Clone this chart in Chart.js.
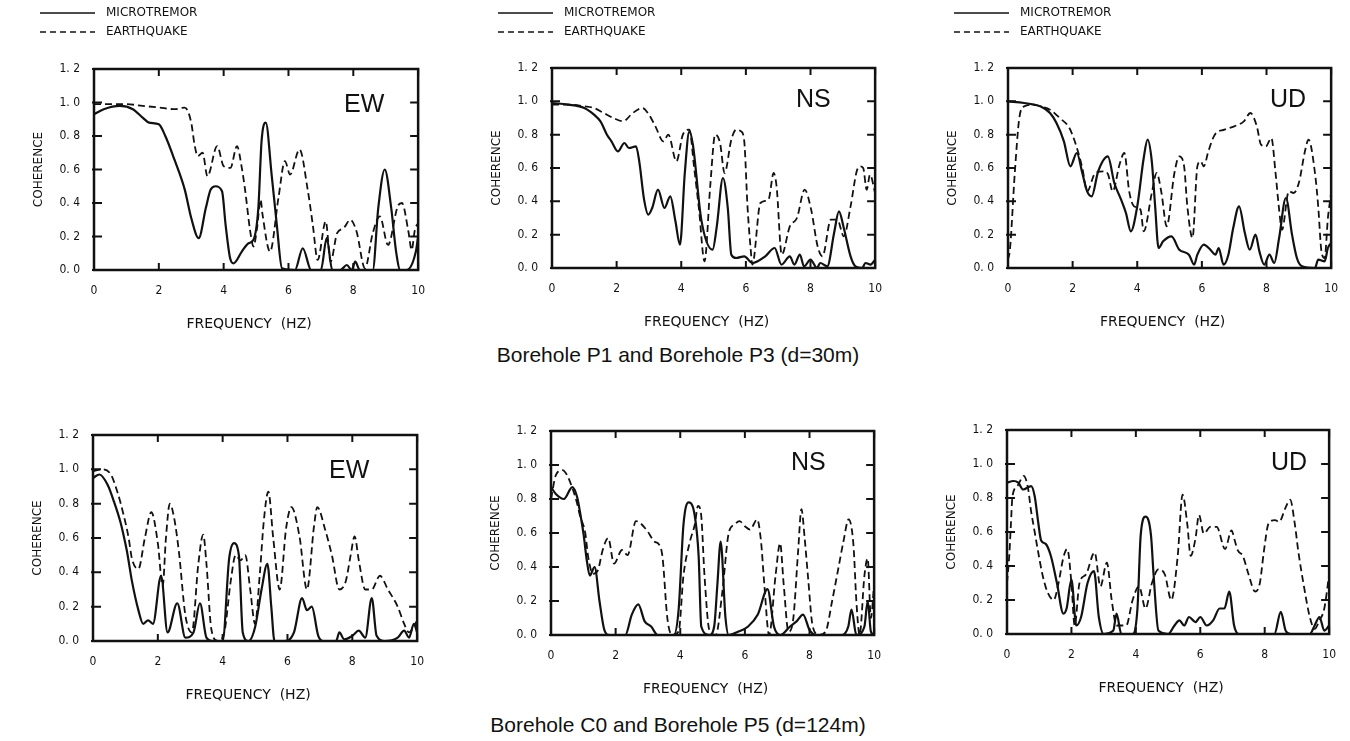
<!DOCTYPE html>
<html>
<head>
<meta charset="utf-8">
<script src="https://cdn.jsdelivr.net/npm/chart.js@4.4.1/dist/chart.umd.min.js"></script>
<style>
  body { margin: 0; background: #fff; }
  #page { position: relative; width: 1350px; height: 741px; overflow: hidden; background: #fff; }
  canvas { position: absolute; }
  .caption { position: absolute; left: 328px; width: 700px; text-align: center;
             font-family: "Liberation Sans", Arial, sans-serif; font-size: 21px; color: #111; }
</style>
</head>
<body>
<div id="page">
  <canvas id="ew30"></canvas>
  <canvas id="ns30"></canvas>
  <canvas id="ud30"></canvas>
  <canvas id="ew124"></canvas>
  <canvas id="ns124"></canvas>
  <canvas id="ud124"></canvas>
  <div class="caption" style="top:343px">Borehole P1 and Borehole P3 (d=30m)</div>
  <div class="caption" style="top:713px">Borehole C0 and Borehole P5 (d=124m)</div>
</div>
<script>
// frequency (Hz), coherence pairs
const xTicks = [0, 2, 4, 6, 8, 10];
const yTicks = [0, 0.2, 0.4, 0.6, 0.8, 1.0, 1.2];

const ew30Micro = [[0,0.93],[0.3,0.96],[0.8,0.98],[1.2,0.96],[1.5,0.91],[1.7,0.88],[2.0,0.87],[2.2,0.8],[2.48,0.66],[2.8,0.48],[3.0,0.31],[3.23,0.19],[3.45,0.37],[3.6,0.48],[3.75,0.5],[3.95,0.47],[4.06,0.27],[4.2,0.07],[4.31,0.04],[4.56,0.11],[4.77,0.16],[4.92,0.18],[5.07,0.37],[5.17,0.77],[5.3,0.88],[5.48,0.57],[5.64,0.27],[5.8,0.01],[6.2,0],[6.44,0.13],[6.7,0],[7.0,0],[7.18,0.19],[7.35,0],[7.6,0],[7.8,0.03],[7.95,0],[8.06,0.05],[8.2,0],[8.6,0],[8.77,0.37],[8.97,0.6],[9.17,0.37],[9.32,0.11],[9.45,0],[9.65,0],[9.93,0.11],[10,0.2]];
const ew30Quake = [[0,0.99],[0.5,0.99],[1.0,0.99],[1.5,0.98],[2.0,0.97],[2.5,0.96],[2.8,0.97],[3.0,0.88],[3.1,0.75],[3.2,0.68],[3.35,0.7],[3.5,0.56],[3.8,0.74],[4.0,0.62],[4.21,0.61],[4.41,0.74],[4.56,0.61],[4.66,0.48],[4.82,0.23],[4.92,0.14],[5.03,0.25],[5.14,0.42],[5.2,0.33],[5.43,0.11],[5.69,0.43],[5.89,0.65],[6.05,0.57],[6.34,0.72],[6.6,0.47],[6.75,0.27],[6.9,0.06],[7.15,0.29],[7.3,0.05],[7.5,0.22],[7.7,0.25],[7.91,0.3],[8.1,0.23],[8.36,0.01],[8.6,0.22],[8.82,0.32],[9.07,0.15],[9.37,0.38],[9.5,0.4],[9.7,0.23],[9.8,0.12],[9.9,0.24],[10,0.28]];

const ns30Micro = [[0,0.99],[0.5,0.98],[1.0,0.96],[1.3,0.92],[1.5,0.88],[1.7,0.8],[1.84,0.76],[2.04,0.7],[2.24,0.75],[2.38,0.72],[2.6,0.73],[2.7,0.64],[2.85,0.41],[2.98,0.32],[3.1,0.36],[3.28,0.47],[3.48,0.36],[3.66,0.43],[3.82,0.28],[3.96,0.14],[4.11,0.57],[4.25,0.82],[4.36,0.74],[4.62,0.29],[4.97,0.11],[5.1,0.25],[5.29,0.54],[5.44,0.36],[5.55,0.08],[5.7,0.06],[5.95,0.07],[6.2,0.03],[6.6,0.07],[6.89,0.12],[7.1,0.02],[7.36,0.07],[7.5,0.02],[7.67,0.08],[7.8,0.01],[8.0,0.05],[8.2,0],[8.3,0.03],[8.52,0.01],[8.73,0.21],[8.88,0.34],[9.03,0.24],[9.24,0.07],[9.39,0.01],[9.6,0],[9.7,0.03],[9.86,0.02],[10,0.05]];
const ns30Quake = [[0,0.98],[0.5,0.98],[1.0,0.97],[1.3,0.96],[1.6,0.93],[1.9,0.9],[2.2,0.88],[2.5,0.93],[2.8,0.96],[3.0,0.92],[3.2,0.85],[3.45,0.76],[3.6,0.8],[3.85,0.64],[4.05,0.8],[4.25,0.83],[4.4,0.6],[4.55,0.35],[4.72,0.04],[4.9,0.5],[5.05,0.8],[5.2,0.75],[5.34,0.57],[5.55,0.77],[5.7,0.83],[5.85,0.82],[5.95,0.76],[6.05,0.37],[6.15,0.11],[6.2,0.02],[6.45,0.39],[6.7,0.41],[6.86,0.57],[6.95,0.49],[7.11,0.08],[7.36,0.25],[7.58,0.3],[7.82,0.47],[8.02,0.35],[8.22,0.13],[8.37,0.07],[8.63,0.29],[8.83,0.29],[9.03,0.19],[9.24,0.37],[9.43,0.58],[9.53,0.61],[9.63,0.6],[9.74,0.47],[9.84,0.56],[10,0.45]];

const ud30Micro = [[0,1.0],[0.5,0.99],[0.8,0.98],[1.0,0.97],[1.3,0.93],[1.5,0.87],[1.73,0.76],[1.93,0.61],[2.13,0.69],[2.3,0.57],[2.45,0.46],[2.59,0.43],[2.79,0.58],[3.09,0.67],[3.29,0.51],[3.5,0.41],[3.65,0.33],[3.8,0.22],[4.0,0.37],[4.2,0.66],[4.32,0.77],[4.45,0.64],[4.55,0.38],[4.66,0.12],[4.8,0.16],[5.06,0.19],[5.3,0.11],[5.6,0.08],[5.76,0.02],[5.86,0.08],[6.06,0.14],[6.26,0.11],[6.42,0.08],[6.52,0.12],[6.67,0.02],[6.82,0.08],[6.97,0.24],[7.15,0.37],[7.33,0.21],[7.48,0.11],[7.66,0.2],[7.78,0.1],[7.93,0.02],[8.09,0.08],[8.24,0.03],[8.39,0.18],[8.6,0.42],[8.79,0.2],[8.94,0.06],[9.1,0.01],[9.5,0],[9.6,0.05],[9.8,0.04],[9.9,0.12],[10,0.15]];
const ud30Quake = [[0,0.05],[0.06,0.11],[0.21,0.57],[0.35,0.9],[0.5,0.97],[0.8,0.98],[1.0,0.97],[1.3,0.95],[1.6,0.9],[1.9,0.84],[2.1,0.74],[2.3,0.6],[2.45,0.46],[2.7,0.57],[3.0,0.58],[3.1,0.56],[3.24,0.46],[3.45,0.62],[3.6,0.69],[3.75,0.46],[3.9,0.37],[4.1,0.35],[4.2,0.22],[4.45,0.45],[4.6,0.57],[4.75,0.45],[4.91,0.25],[5.15,0.57],[5.3,0.67],[5.45,0.61],[5.55,0.37],[5.71,0.18],[5.86,0.61],[5.96,0.64],[6.06,0.61],[6.2,0.7],[6.4,0.8],[6.7,0.83],[7.0,0.85],[7.3,0.88],[7.5,0.93],[7.7,0.85],[7.83,0.74],[7.98,0.73],[8.15,0.78],[8.28,0.57],[8.38,0.37],[8.48,0.23],[8.69,0.46],[8.84,0.45],[9.0,0.51],[9.2,0.71],[9.3,0.77],[9.5,0.57],[9.6,0.37],[9.7,0.1],[9.8,0.06],[9.9,0.3],[10,0.45]];

const ew124Micro = [[0,0.95],[0.2,0.97],[0.45,0.91],[0.65,0.81],[0.85,0.69],[0.95,0.61],[1.05,0.52],[1.2,0.35],[1.4,0.18],[1.55,0.1],[1.7,0.12],[1.85,0.1],[2.1,0.38],[2.3,0.05],[2.6,0.22],[2.85,0.02],[3.1,0.05],[3.3,0.22],[3.5,0.02],[3.7,0],[4.0,0],[4.2,0.48],[4.35,0.57],[4.5,0.5],[4.62,0.05],[4.8,0],[5.0,0.08],[5.2,0.3],[5.38,0.45],[5.5,0.2],[5.6,0],[5.9,0],[6.2,0.05],[6.45,0.25],[6.6,0.18],[6.75,0.2],[6.95,0.03],[7.1,0],[7.5,0],[7.6,0.05],[7.75,0.01],[8.0,0.03],[8.2,0.06],[8.4,0.02],[8.6,0.25],[8.75,0.03],[9.0,0],[9.4,0.02],[9.6,0.06],[9.75,0.02],[9.9,0.1],[10,0.05]];
const ew124Quake = [[0,0.99],[0.3,1.0],[0.55,0.97],[0.75,0.87],[0.95,0.73],[1.1,0.6],[1.2,0.48],[1.4,0.42],[1.6,0.6],[1.8,0.75],[2.0,0.57],[2.15,0.32],[2.25,0.6],[2.37,0.8],[2.5,0.72],[2.65,0.52],[2.85,0.15],[3.05,0.05],[3.25,0.45],[3.4,0.62],[3.5,0.45],[3.65,0.07],[3.85,0],[4.05,0.05],[4.25,0.35],[4.4,0.5],[4.55,0.47],[4.7,0.5],[4.85,0.3],[5.0,0.1],[5.15,0.4],[5.27,0.7],[5.41,0.87],[5.56,0.6],[5.76,0.3],[5.96,0.66],[6.12,0.78],[6.37,0.61],[6.6,0.3],[6.82,0.67],[6.92,0.78],[7.16,0.65],[7.37,0.5],[7.6,0.3],[7.8,0.35],[7.95,0.5],[8.07,0.61],[8.2,0.47],[8.4,0.3],[8.6,0.3],[8.85,0.38],[9.1,0.3],[9.4,0.2],[9.6,0.1],[9.75,0.05],[10,0.12]];

const ns124Micro = [[0,0.87],[0.15,0.83],[0.4,0.8],[0.66,0.87],[0.81,0.81],[0.9,0.72],[1.01,0.59],[1.1,0.45],[1.2,0.35],[1.35,0.4],[1.5,0.2],[1.65,0.03],[1.8,0],[2.3,0],[2.5,0.12],[2.7,0.18],[2.9,0.08],[3.1,0.05],[3.3,0],[3.8,0],[3.95,0.15],[4.1,0.65],[4.26,0.78],[4.45,0.7],[4.57,0.46],[4.65,0.05],[4.9,0],[5.05,0.05],[5.15,0.3],[5.25,0.55],[5.4,0.1],[5.5,0],[5.8,0.02],[6.1,0.05],[6.4,0.12],[6.7,0.27],[6.9,0.05],[7.1,0],[7.4,0.05],[7.6,0.08],[7.8,0.12],[8.0,0.03],[8.2,0],[9.0,0],[9.2,0.05],[9.3,0.15],[9.45,0],[9.7,0.05],[9.8,0.2],[9.9,0.02],[10,0]];
const ns124Quake = [[0,0.8],[0.15,0.94],[0.35,0.97],[0.5,0.94],[0.65,0.87],[0.8,0.78],[0.9,0.7],[1.06,0.6],[1.15,0.46],[1.3,0.36],[1.45,0.38],[1.6,0.5],[1.77,0.57],[1.95,0.42],[2.2,0.5],[2.37,0.47],[2.63,0.67],[2.95,0.62],[3.2,0.55],[3.35,0.53],[3.45,0.46],[3.6,0.1],[3.75,0],[3.95,0.02],[4.1,0.35],[4.3,0.55],[4.45,0.65],[4.55,0.76],[4.65,0.7],[4.75,0.35],[4.9,0.03],[5.1,0],[5.3,0.25],[5.5,0.6],[5.68,0.65],[5.83,0.67],[6.0,0.64],[6.16,0.62],[6.38,0.68],[6.5,0.55],[6.6,0.3],[6.75,0],[6.95,0.35],[7.09,0.54],[7.2,0.3],[7.35,0.02],[7.5,0.1],[7.65,0.5],[7.75,0.74],[7.85,0.57],[7.95,0.35],[8.1,0.05],[8.3,0],[8.5,0.02],[8.7,0.2],[8.9,0.4],[9.05,0.55],[9.21,0.68],[9.36,0.53],[9.45,0.2],[9.55,0],[9.7,0.35],[9.8,0.45],[9.9,0.1],[10,0.3]];

const ud124Micro = [[0,0.89],[0.2,0.9],[0.35,0.89],[0.5,0.85],[0.75,0.87],[0.86,0.81],[0.96,0.67],[1.06,0.55],[1.2,0.53],[1.36,0.46],[1.55,0.3],[1.75,0.12],[1.85,0.15],[2.0,0.32],[2.15,0.05],[2.3,0.1],[2.5,0.3],[2.7,0.37],[2.85,0.1],[3.0,0],[3.3,0.02],[3.4,0.12],[3.55,0],[3.9,0],[4.05,0.15],[4.15,0.58],[4.3,0.69],[4.47,0.58],[4.55,0.35],[4.7,0.02],[5.0,0],[5.2,0.05],[5.35,0.08],[5.5,0.05],[5.65,0.1],[5.85,0.07],[6.0,0.1],[6.2,0.05],[6.4,0.08],[6.6,0.15],[6.75,0.15],[6.9,0.25],[7.05,0.05],[7.2,0],[8.3,0],[8.5,0.13],[8.65,0.02],[8.8,0],[9.4,0],[9.55,0.05],[9.7,0.1],[9.85,0.02],[10,0.05]];
const ud124Quake = [[0,0.3],[0.07,0.46],[0.12,0.64],[0.17,0.81],[0.32,0.87],[0.52,0.93],[0.65,0.86],[0.75,0.72],[0.86,0.6],[0.96,0.49],[1.1,0.35],[1.25,0.25],[1.45,0.2],[1.6,0.3],[1.75,0.45],[1.87,0.5],[2.0,0.3],[2.1,0.05],[2.25,0.3],[2.45,0.35],[2.72,0.48],[2.9,0.28],[3.1,0.42],[3.25,0.2],[3.4,0.05],[3.7,0.05],[3.9,0.2],[4.1,0.28],[4.3,0.15],[4.5,0.3],[4.7,0.38],[4.9,0.35],[5.1,0.2],[5.3,0.46],[5.45,0.82],[5.6,0.64],[5.7,0.46],[5.85,0.56],[5.96,0.7],[6.11,0.59],[6.31,0.63],[6.51,0.63],[6.77,0.5],[6.97,0.61],[7.07,0.55],[7.17,0.49],[7.32,0.46],[7.5,0.35],[7.7,0.25],[7.85,0.3],[7.97,0.48],[8.12,0.65],[8.32,0.67],[8.45,0.66],[8.64,0.74],[8.79,0.79],[8.94,0.64],[9.04,0.49],[9.2,0.3],[9.4,0.1],[9.55,0.03],[9.7,0.08],[9.85,0.15],[10,0.35]];

const INK = '#111';
const plotFont = '"DejaVu Sans Condensed", "DejaVu Sans", sans-serif';
const labelFont = '"DejaVu Sans", sans-serif';

// frame with inward ticks, axis titles, component label and (top row) legend
const framePlugin = {
    id: 'frame',
    afterDraw(chart, args, opts) {
        const ctx = chart.ctx;
        const a = chart.chartArea;
        const xs = chart.scales.x, ys = chart.scales.y;
        ctx.save();
        ctx.strokeStyle = INK;
        ctx.lineWidth = 2.5;
        ctx.strokeRect(a.left, a.top, a.right - a.left, a.bottom - a.top);
        ctx.lineWidth = 2;
        ctx.beginPath();
        xTicks.forEach(v => {
            const px = xs.getPixelForValue(v);
            ctx.moveTo(px, a.bottom); ctx.lineTo(px, a.bottom - 7);
            ctx.moveTo(px, a.top); ctx.lineTo(px, a.top + 7);
        });
        yTicks.forEach(v => {
            const py = ys.getPixelForValue(v);
            ctx.moveTo(a.left - 2, py); ctx.lineTo(a.left + 8, py);
            ctx.moveTo(a.right, py); ctx.lineTo(a.right - 8, py);
        });
        ctx.stroke();

        ctx.fillStyle = INK;
        ctx.font = '25px "Liberation Sans", Arial, sans-serif';
        ctx.textBaseline = 'alphabetic';
        ctx.textAlign = 'left';
        ctx.fillText(opts.label, a.left + opts.labelX, a.top + opts.labelY);

        // axis titles
        ctx.font = '14px ' + labelFont;
        ctx.textAlign = 'center';
        ctx.textBaseline = 'middle';
        ctx.fillText('FREQUENCY  (HZ)', (a.left + a.right) / 2 - 7, a.bottom + 54);
        ctx.save();
        ctx.translate(a.left - 55, (a.top + a.bottom) / 2);
        ctx.rotate(-Math.PI / 2);
        ctx.font = '12px ' + labelFont;
        ctx.fillText('COHERENCE', 0, 0);
        ctx.restore();

        if (opts.legend) {
            ctx.font = '12px ' + labelFont;
            ctx.textAlign = 'left';
            ctx.textBaseline = 'middle';
            ctx.lineWidth = 1.6;
            ctx.beginPath();
            ctx.moveTo(a.left - 54, 13); ctx.lineTo(a.left + 1, 13);
            ctx.stroke();
            ctx.setLineDash([6, 4]);
            ctx.beginPath();
            ctx.moveTo(a.left - 54, 32); ctx.lineTo(a.left + 1, 32);
            ctx.stroke();
            ctx.setLineDash([]);
            ctx.fillText('MICROTREMOR', a.left + 12, 13);
            ctx.fillText('EARTHQUAKE', a.left + 12, 32);
        }
        ctx.restore();
    }
};

function makePanel(id, box, micro, quake, label, labelX, labelY, legend) {
    const axisW = 75, axisH = 70, padRight = 14;
    const padTop = legend ? box.top : 30;
    const canvas = document.getElementById(id);
    canvas.width = axisW + (box.right - box.left) + padRight;
    canvas.height = padTop + (box.bottom - box.top) + axisH;
    canvas.style.left = (box.left - axisW) + 'px';
    canvas.style.top = (box.top - padTop) + 'px';

    new Chart(canvas.getContext('2d'), {
        type: 'line',
        data: {
            datasets: [
                {
                    label: 'MICROTREMOR',
                    data: micro.map(p => ({x: p[0], y: p[1]})),
                    borderColor: INK,
                    borderWidth: 2.2,
                    pointRadius: 0,
                    cubicInterpolationMode: 'monotone',
                    fill: false
                },
                {
                    label: 'EARTHQUAKE',
                    data: quake.map(p => ({x: p[0], y: p[1]})),
                    borderColor: INK,
                    borderWidth: 1.8,
                    borderDash: [7, 4],
                    pointRadius: 0,
                    cubicInterpolationMode: 'monotone',
                    fill: false
                }
            ]
        },
        options: {
            responsive: false,
            animation: false,
            events: [],
            layout: { padding: { top: padTop, right: padRight, left: 0, bottom: 0 } },
            plugins: {
                legend: { display: false },
                tooltip: { enabled: false },
                frame: { label: label, labelX: labelX, labelY: labelY, legend: legend }
            },
            scales: {
                x: {
                    type: 'linear',
                    min: 0, max: 10,
                    afterFit: s => { s.height = axisH; },
                    afterBuildTicks: s => { s.ticks = xTicks.map(v => ({value: v})); },
                    grid: { display: false, drawTicks: false },
                    border: { display: false },
                    ticks: { padding: 14, color: INK, font: { family: plotFont, size: 12 } }
                },
                y: {
                    min: 0, max: 1.2,
                    afterFit: s => { s.width = axisW; },
                    afterBuildTicks: s => { s.ticks = yTicks.map(v => ({value: v})); },
                    grid: { display: false, drawTicks: false },
                    border: { display: false },
                    ticks: {
                        padding: 14,
                        color: INK,
                        font: { family: plotFont, size: 12 },
                        callback: v => v.toFixed(1).replace('.', '. ')
                    }
                }
            }
        },
        plugins: [framePlugin]
    });
}

makePanel('ew30', {left: 94, top: 69, right: 425, bottom: 270}, ew30Micro, ew30Quake, 'EW', 250, 43, true);
makePanel('ns30', {left: 552, top: 68, right: 882, bottom: 268}, ns30Micro, ns30Quake, 'NS', 244, 39, true);
makePanel('ud30', {left: 1008, top: 68, right: 1338, bottom: 268}, ud30Micro, ud30Quake, 'UD', 262, 39, true);
makePanel('ew124', {left: 93, top: 435, right: 424, bottom: 641}, ew124Micro, ew124Quake, 'EW', 236, 43, false);
makePanel('ns124', {left: 551, top: 431, right: 881, bottom: 635}, ns124Micro, ns124Quake, 'NS', 240, 39, false);
makePanel('ud124', {left: 1007, top: 430, right: 1336, bottom: 634}, ud124Micro, ud124Quake, 'UD', 264, 40, false);
</script>
</body>
</html>
